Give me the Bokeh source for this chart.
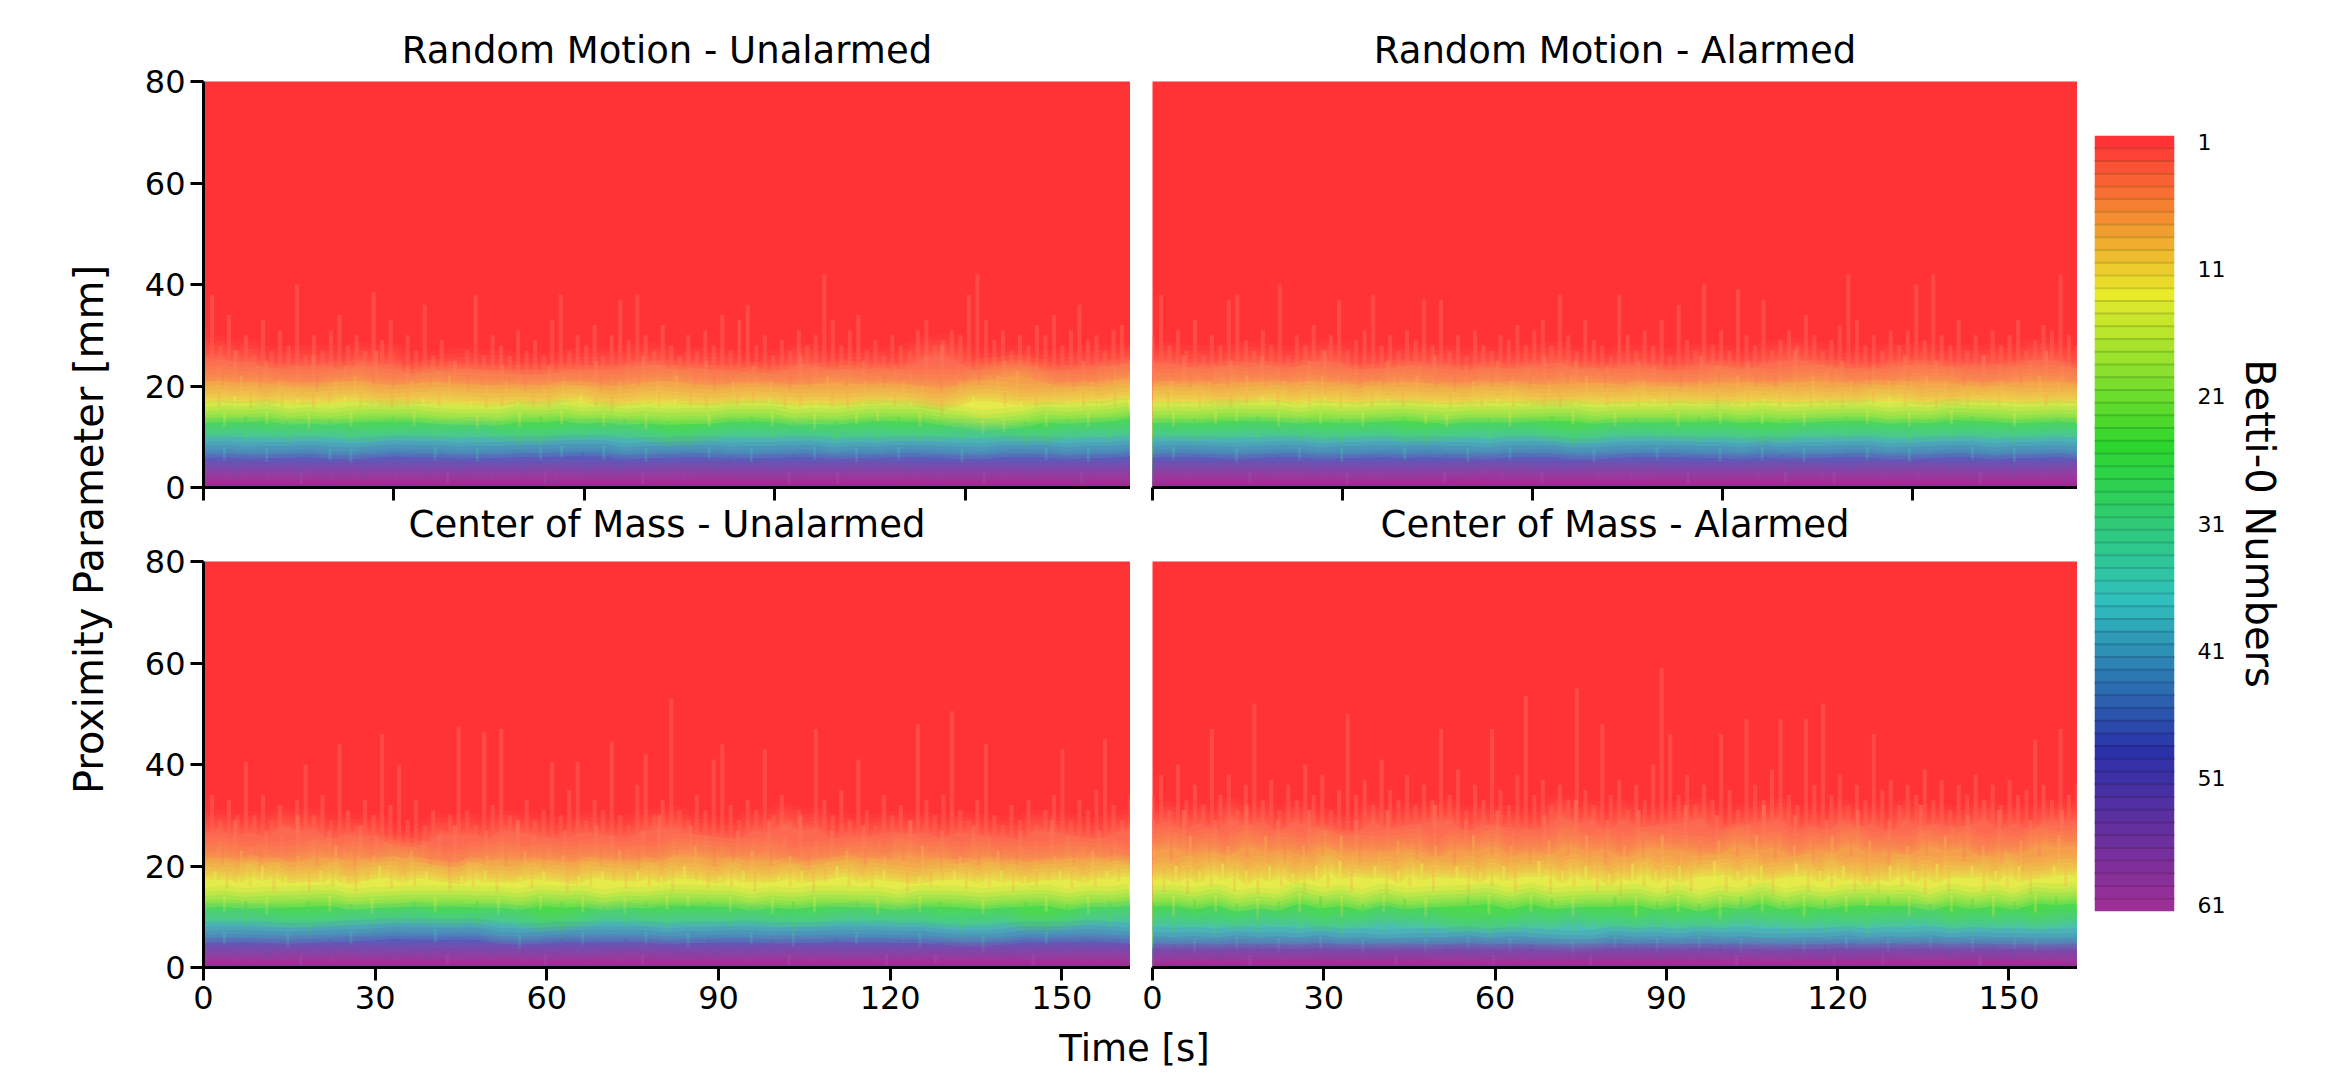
import numpy as np
from bokeh.plotting import figure
from bokeh.layouts import row, column
from bokeh.models import Range1d, Label, Title, FixedTicker
from bokeh.embed import file_html
from bokeh.resources import INLINE

# Level-contour heights [mm], one list per Betti level, per panel
rmu_l2 = [31,38,28,34,27,30,26,33,27,31,28,40,26,30,27,31,34,28,30,27,38.5,29,33,25,30,27,36,26,29,25,24,27,38,26,30,28,26,31,27,29,26,33,38,27,30,28,32,26,30,37,29,38,30,27,32,28,26,30,27,31,28,34,27,33,36,28,30,26,29,27,31,28,30,42,33,28,31,34,27,29,26,30,28,27,31,33,28,29,31,30,38,42,33,29,31,27,30,28,32,30,34,28,31,36,29,30,27,31,32,28]
rmu_l4 = [26,24,27,23,25,22,24,26,22,24,23,27,22,24,21,23,25,22,23,24,22,21,24,22,23,25,22,24,26,23,24,22,25,23,22,24,21,23,26,24,22,23,25,22,24,23,26,28,24,23,22,25,23,24,22,23,25,23,24,25]
rmu_l8 = [21,20,22,19.5,21,20,19,21,22,20,19.5,21,20,22,19,20,21,19,20,21,20,19,21,20,21,22,20,19,21,20,21,19,20,22,20,21,19.5,21,20,19,21,20,22,23,21,20,19,21,20,22]
rmu_l13 = [17,16,18,15.5,17,16,17.5,15.5,16.5,18,16,17,15.5,16,17.5,16,16.5,17,15.5,16,17,16,15.5,17,18,16,15,16.5,17,16,17.5,16,15.5,17,16,16.5,17.5,15.5,16,17,16,15.5,17,16.5,16,17,15.5,14,16,18,17,16,17,15.5,16.5,17,16,17.5,16,18]
rmu_l24 = [13,12,14,12.5,13,11.5,13.5,12,13,14,12,13,12.5,11.5,13,12,14,12.5,13,12,13.5,11.5,13,12.5,12,13,14,12,13,11.5,13,12.5,13,14,12,13,12,10.5,11,13,12,13.5,12,13,14]
rmu_l36 = [9.5,10,9,10.5,8.5,9.5,10,9,8.5,10,9.5,9,10,9,10.5,7.5,8.5,10,9,9.5,10,9,8,7.5,9,10,9.5,9,10,9.5,8.5,10,9,9.5,8.5,10,9,9.5,10,8,8.5,9.5,10,9,10]
rmu_l48 = [6,5.5,6.5,5,6,6.5,5.5,5,6,6.5,6,5.5,6.5,5,6,6.5,5.5,6,7,5.5,6,5,6.5,6,5.5,6.5,5,6,6.5,5.5,6,5,6.5,5.5,6,6.5,5,5.5,6,6.5,5.5,6,5,6.5,6]
rmu_l58 = [2.5,2,3,2.2,2.6,2,3,2.4,2,2.8,2.2,3,2.4,2,2.6,3,2.2,2.5,2,2.8,2.4,3,2.2,2.6,2,2.8,2.4,2.1,2.7,2.4]
rmu_l60 = [0.8,1,0.7,0.9,1.1,0.7,0.9,0.8,1,0.7,0.9,1.1,0.8,0.7,1,0.9,0.7,1,0.8,0.9]

rma_l2 = [30,38,28,31,27,33,26,30,28,37,38,29,27,31,28,40,26,30,28,32,27,30,37,27,29,31,38,28,30,27,31,29,37,28,37,27,30,26,31,28,27,30,29,32,28,31,33,28,38,30,27,33,29,28,26,38,30,27,31,28,33,26,36,29,27,40,28,31,27,39,30,28,37,27,29,31,28,34,30,27,29,32,42,33,28,30,27,31,28,31,40,29,42,30,28,33,27,30,26,31,28,30,33,27,29,32,31,42,30,28]
rma_l4 = [25,23,26,22,24,25,23,26,24,22,25,27,23,24,22,25,23,24,26,22,24,23,25,22,24,26,23,25,22,24,23,25,24,22,23,26,24,22,25,23,25,27,24,23,25,22,24,23,26,23,25,24,22,26,24,23,25,27,24,23]
rma_l8 = [20,21,19.5,21,20,22,19.5,21,20,22,20,19.5,21,20,22,20,19,21,20,21,19.5,21,20,22,19.5,20,21,20,19,21,20,22,20,19.5,21,22,20,21,19.5,21,20,22,21,20,19.5,21,20,22,21,20]
rma_l13 = [17,16,17.5,16,17,15.5,16.5,18,16,17,16,18,15.5,17,16,17.5,16,16.5,17,15.5,17,16,17.5,16,17,16,15.5,17,16.5,16,17,16,17.5,16,16.5,17,15.5,17,16,17.5,16,17,16,17.5,15.5,17,16.5,18,16,17,15.5,17,16,17.5,16,17,16.5,16,17,16.5]
rma_l24 = [13,12,13.5,12.5,13,14,12,13,12.5,13.5,12,13,14,12.5,12,13,13.5,12,13,14,12.5,13,12,13.5,13,12,14,12.5,13,12.5,13.5,12,13,14,12.5,13,12,13.5,12.5,14,13,12,13,13.5,12.5]
rma_l36 = [9.5,10,8.5,9.5,10,9,10.5,9,9.5,8.5,10,9.5,9,8,9.5,10,9,9.5,10,9,7.5,9,10,9.5,9,10,8.5,9.5,10,7.5,9,10,9.5,9,10,9.5,8.5,10,9,9.5,10,8.5,9.5,10,9.5]
rma_l48 = [6,5.5,6.5,6,5,6,6.5,5.5,6,5,6.5,6,5.5,6,6.5,5,6,5.5,6.5,6,5.5,5,6,6.5,5.5,6,6.5,5,6,5.5,6.5,5,6,6.5,5.5,6,5,6,6.5,5.5,6,5,6.5,6,5.5]
rma_l58 = [2.4,2.9,2.1,2.6,3,2.2,2.7,2.4,2,2.8,2.3,3,2.5,2.1,2.7,3,2.2,2.6,2,2.9,2.4,2.8,2.2,2.6,3,2.3,2.7,2,2.5,2.8]
rma_l60 = [0.9,1.1,0.8,1,0.7,1,0.9,1.2,0.8,1,0.9,0.7,1.1,0.9,0.8,1,1.1,0.8,0.9,1]

cmu_l2 = [31,34,29,33,30,40.5,30,34,29,32,28,33,40,30,34,29,44,31,28,33,30,46,32,40,29,33,28,31,27,30,47.5,31,28,46.5,32,47,30,28,33,29,31,40.5,30,35,40.5,29,33,31,44.5,30,28,36,42,30,33,53,31,29,34,31,41,44,32,29,33,31,43,30,34,29,31,28,47,33,30,35,29,41,31,28,34,30,32,29,48,33,30,34,50.5,31,29,33,44,30,28,32,29,33,28,31,34,43,29,33,31,35,45,32,29,34]
cmu_l4 = [27,25,29,24,27,26,30,25,27,24,28,26,24,22,25,26,28,24,27,25,29,26,24,27,25,28,26,24,27,30,25,28,26,24,27,25,29,26,30,25,27,24,28,25,26,29,24,27,25,28,26,24,27,25,29,26,24,27,25,28]
cmu_l8 = [22,20,23,19,21,22,20,24,19,22,21,23,20,18,21,22,20,23,19,22,21,20,23,19,21,22,24,20,21,23,20,22,19,21,23,20,22,21,24,19,22,20,23,19,21,22,20,23,21,20]
cmu_l13 = [17,19,15.5,18,16,20,15,18,17,15,19,16,18,15,17,20,15.5,18,16,19,17,15,18,16,19,15,17,18,15.5,19,17,15,18,16,19,17,15.5,19,16,18,15,20,17,15.5,18,16,19,15,17,18,16,19,15,17,20,16,18,15.5,19,17,15,18,16,17,19,15.5,18,16,19,15,18,16,17,19,15.5,18,16,19,17,18]
cmu_l24 = [12,11,13,10.5,12,13,11,12.5,10.5,12,13,11,12,13,10.5,12,11.5,13,11,12,10.5,13,11.5,12,13,11,12,10.5,13,11,12,13,10.5,12,11,13,12,10.5,12,13,11,12.5,10.5,13,12]
cmu_l36 = [8.5,9.5,7.5,9,8,6,9,8.5,7.5,9.5,8,9,7.5,8,9.5,8,7,5.5,8.5,9.5,8,9,7.5,8.5,9,7.5,8.5,9.5,6,8.5,9,8,9.5,7.5,8.5,9,6,8.5,9,7,5,8.5,9,8,9.5]
cmu_l48 = [5,4.5,5.5,5,4,5,5.5,4.5,5.5,6,5.5,5,6,5.5,5,3.5,5,5.5,4.5,5,5.5,4.5,5,4,5.5,5,4.5,5.5,4,5,5.5,4.5,5,5.5,4,5,4.5,3,5,5.5,4.5,5,5.5,5,4.5]
cmu_l58 = [1.8,2.2,1.5,2,2.4,1.7,2.1,1.5,2.3,1.8,2.2,1.6,2,2.5,1.7,2,1.5,2.2,1.8,2.4,1.6,2,1.5,2.3,1.9,1.6,2.2,1.8,2.4,1.9]
cmu_l60 = [0.5,0.7,0.4,0.6,0.8,0.5,0.7,0.4,0.6,0.5,0.8,0.6,0.4,0.7,0.5,0.6,0.8,0.4,0.7,0.5]

cma_l2 = [34,38,31,40,33,36,32,47,34,38,31,36,52,33,37,31,36,33,40,34,38,31,35,50,34,37,32,41,35,33,38,32,36,33,47,34,39,31,36,33,47,35,32,38,53.5,34,37,32,36,33,55,35,32,48,34,37,31,36,33,40,59,46,34,38,32,36,33,46,35,31,49,36,33,39,49,34,32,49,36,52,34,38,32,36,33,46,35,37,32,36,34,39,33,37,31,36,34,38,33,36,32,37,34,35,45,36,33,47,34,36]
cma_l4 = [29,26,31,25,29,27,32,25,29,26,31,27,24,29,26,31,25,28,32,26,29,25,31,27,25,30,27,33,25,29,27,31,25,28,32,26,30,25,28,32,26,30,25,29,27,31,25,29,26,32,25,28,30,26,31,25,29,27,31,28]
cma_l8 = [24,21,26,20,24,22,26,20,24,22,26,20,23,25,21,24,20,26,22,24,20,25,22,26,20,24,21,26,23,20,25,22,26,21,24,20,26,22,25,20,24,22,26,21,24,20,25,22,26,23]
cma_l13 = [18,15,20,14.5,19,16,20.5,15,19,14.5,20,16,18.5,14.5,20,16,21,15,18,20,14.5,19,16,20.5,15,18,20,14.5,19,16,20,15,18,21,14.5,19,16,20,15,18.5,14,20.5,16,19,14.5,20,15,18,21,15,19,16,20,14.5,18,20.5,15,19,16,20,15,18,14.5,20,16,19,14.5,20.5,15,18,20,15,19,16,20,14.5,18,20,16,19]
cma_l24 = [13,10,13.5,11,12.5,9.5,13,11,14,10,12.5,11,13.5,10,12,14,10.5,13,11,13.5,10,12,14,10,13,11,12.5,9.5,14,11,13,10,13.5,11,12,14,10,12.5,11,13.5,10,13,11,14,12]
cma_l36 = [8.5,7,9.5,6.5,8.5,7,9.5,7,8,6,9,7.5,9.5,6.5,8,7,5,9,6.5,8.5,7,9.5,6,8,7,9,6,8.5,7.5,9.5,6.5,8,7,9,6.5,8,9.5,7,8.5,6,9,7,8,6.5,9]
cma_l48 = [3.5,4.5,3,4,3.5,4.5,3,4,3.5,4.5,2.5,4,3.5,3,4.5,3.5,4,3,4.5,3.5,2,4,3.5,4.5,3,4,3.5,4.5,3,4,3.5,3,4.5,3.5,4,3,4.5,3.5,4,3,4.5,3.5,3,4,3.5]
cma_l58 = [1.5,1.9,1.2,1.7,2,1.3,1.8,1.2,1.6,2,1.4,1.8,1.2,1.7,1.4,1.9,1.2,1.6,2,1.3,1.8,1.4,1.2,1.7,2,1.4,1.8,1.3,1.7,1.5]
cma_l60 = [0.4,0.6,0.3,0.5,0.7,0.4,0.6,0.3,0.5,0.4,0.7,0.5,0.3,0.6,0.4,0.5,0.7,0.3,0.6,0.4]

x_ticks_top = [0, 30, 60, 90, 120]
x_ticks_bottom = [0, 30, 60, 90, 120, 150]
y_ticks = [0, 20, 40, 60, 80]
cbar_levels = list(range(1, 62))
cbar_ticks = [1, 11, 21, 31, 41, 51, 61]
titles = ["Random Motion - Unalarmed", "Random Motion - Alarmed",
          "Center of Mass - Unalarmed", "Center of Mass - Alarmed"]

# Styles
FONT = "DejaVu Sans"
RED = "#ff3336"
panel_colors = [RED, "#fd6a52", "#f7a04e", "#e6ec4c", "#4edc4e", "#4cc0b8", "#5060c0", "#9a4ca8", "#a02c96"]
needle_colors = ["#ff5c4e", "#fd7458", "#f7a850", "#e6ec4c", "#4edc4e", "#4cc0b8", "#5060c0", "#a058b0", "#a02c96"]
needle_alpha = [.6, .6, .55, .55, .45, .45, .45, .4, .3]
feathers = [(6,.30), (10,.25), (16,.22), (24,.20), (32,.16), (42,.12)]
cbar_stops = {1:(255,50,54), 13:(232,234,42), 25:(45,214,45), 37:(47,192,188), 49:(42,48,168), 61:(156,47,150)}

def cbar_color(level, shade=1.0):
    keys = sorted(cbar_stops)
    for a, b in zip(keys[:-1], keys[1:]):
        if a <= level <= b:
            f = (level - a) / (b - a)
            c = [(1-f)*u + f*v for u, v in zip(cbar_stops[a], cbar_stops[b])]
            return "#%02x%02x%02x" % tuple(int(round(v*shade)) for v in c)

def base(width, height, xr, left, right, top, bottom):
    p = figure(width=width, height=height, x_range=Range1d(0, xr), y_range=Range1d(0, 80),
               output_backend="svg", toolbar_location=None, tools="",
               min_border_left=left, min_border_right=right, min_border_top=top, min_border_bottom=bottom)
    p.grid.visible = False
    p.outline_line_color = None
    p.background_fill_color = RED
    p.border_fill_color = "white"
    return p

def style_axis(ax, ticks, blank=False):
    ax.ticker = FixedTicker(ticks=ticks)
    ax.axis_line_color = "black"; ax.axis_line_width = 3
    ax.major_tick_line_color = "black"; ax.major_tick_line_width = 3
    ax.major_tick_out = 13; ax.major_tick_in = 0
    ax.minor_tick_line_color = None
    ax.major_label_text_font = FONT
    ax.major_label_text_font_size = "1px" if blank else "32px"
    ax.major_label_text_color = "black"
    ax.major_label_standoff = 2 if blank else 5
    if blank:
        ax.major_label_overrides = {t: "" for t in ticks}

def body_of(y):
    # the calmer body of a contour; the read samples stand out from it as thin needles
    y = np.asarray(y, dtype=float)
    return np.convolve(np.pad(y, 1, mode="edge"), np.ones(3) / 3, mode="valid")

def draw(p, curves, tmax):
    for i, (y, col, ncol) in enumerate(zip(curves, panel_colors, needle_colors)):
        y = np.asarray(y, dtype=float)
        t = np.linspace(0, tmax, len(y))
        body = body_of(y)
        if i > 0:
            p.varea(x=t, y1=0, y2=body, fill_color=col)
            for w, a in feathers:
                p.line(t, body, line_color=col, line_width=w, line_alpha=a, line_join="round")
        # upper contours: every sample is a streak; lower ones: the samples above the body
        up = np.ones(len(y), dtype=bool) if i < 2 else y >= body
        p.segment(x0=t[up], y0=0, x1=t[up], y1=y[up], line_color=ncol,
                  line_width=4 if i < 2 else 3, line_alpha=needle_alpha[i])
        # samples below the body: needle of the level above cutting down into it
        if i > 1:
            p.segment(x0=t[~up], y0=y[~up], x1=t[~up], y1=body[~up] + 2,
                      line_color=needle_colors[i - 1], line_width=3, line_alpha=.3)

def titled(p, text, place, standoff):
    p.add_layout(Title(text=text, align="center", text_font=FONT, text_font_size="37px",
                       text_font_style="normal", text_color="black", standoff=standoff), place)

T_TOP, T_BOT = 146, 162
H1, H2, H3 = 546, 479, 46
a = base(1012, H1, T_TOP, 85, 0, 81, 59)
b = base(947, H1, T_TOP, 22, 0, 81, 59)
c = base(1012, H2, T_BOT, 85, 0, 15, 58)
d = base(947, H2, T_BOT, 22, 0, 15, 58)

draw(a, [rmu_l2, rmu_l4, rmu_l8, rmu_l13, rmu_l24, rmu_l36, rmu_l48, rmu_l58, rmu_l60], T_TOP)
draw(b, [rma_l2, rma_l4, rma_l8, rma_l13, rma_l24, rma_l36, rma_l48, rma_l58, rma_l60], T_TOP)
draw(c, [cmu_l2, cmu_l4, cmu_l8, cmu_l13, cmu_l24, cmu_l36, cmu_l48, cmu_l58, cmu_l60], T_BOT)
draw(d, [cma_l2, cma_l4, cma_l8, cma_l13, cma_l24, cma_l36, cma_l48, cma_l58, cma_l60], T_BOT)

titled(a, titles[0], "above", 20)
titled(b, titles[1], "above", 20)
# the lower panels' titles sit under the upper panels' axes, so they are not cut at the row boundary
titled(a, titles[2], "below", 0)
titled(b, titles[3], "below", 0)

for p, top_row, left_col in [(a, True, True), (b, True, False), (c, False, True), (d, False, False)]:
    style_axis(p.xaxis[0], x_ticks_top if top_row else x_ticks_bottom, blank=top_row)
    if left_col:
        style_axis(p.yaxis[0], y_ticks)
    else:
        p.yaxis.visible = False

# Colourbar
cb = figure(width=258, height=H1 + H2 + H3, x_range=Range1d(0, 1), y_range=Range1d(61.5, 0.5),
            output_backend="svg", toolbar_location=None, tools="", y_axis_location="right",
            min_border_left=17, min_border_right=161, min_border_top=135, min_border_bottom=160)
cb.grid.visible = False
cb.outline_line_color = None
cb.xaxis.visible = False
lv = np.array(cbar_levels, dtype=float)
cb.quad(left=0, right=1, top=lv - .5, bottom=lv + .5,
        fill_color=[cbar_color(v) for v in cbar_levels], line_color=None)
cb.segment(x0=0, x1=1, y0=lv[1:] - .5, y1=lv[1:] - .5,
           line_color=[cbar_color(v, .86) for v in cbar_levels[1:]], line_width=2)
ay = cb.yaxis[0]
ay.ticker = FixedTicker(ticks=cbar_ticks)
ay.axis_line_color = None
ay.major_tick_line_color = None
ay.minor_tick_line_color = None
ay.major_label_text_font = FONT
ay.major_label_text_font_size = "22px"
ay.major_label_text_color = "black"
ay.major_label_standoff = 17
ay.axis_label = "Betti-0 Numbers"
ay.axis_label_text_font = FONT
ay.axis_label_text_font_size = "40px"
ay.axis_label_text_font_style = "normal"
ay.axis_label_text_color = "black"
ay.axis_label_standoff = 9

# Shared axis labels
def strip(width, height):
    s = figure(width=width, height=height, x_range=Range1d(0, 1), y_range=Range1d(0, 1),
               output_backend="svg", toolbar_location=None, tools="",
               min_border_left=0, min_border_right=0, min_border_top=0, min_border_bottom=0)
    s.grid.visible = False; s.axis.visible = False; s.outline_line_color = None
    return s

left = strip(118, H1 + H2 + H3)
left.add_layout(Label(x=88, y=382, x_units="screen", y_units="screen", text="Proximity Parameter [mm]",
                      angle=np.pi/2, text_align="center", text_baseline="middle",
                      text_font=FONT, text_font_size="40px", text_color="black"))
bottom = strip(1959, H3)
bottom.add_layout(Label(x=1016, y=23, x_units="screen", y_units="screen", text="Time [s]",
                        text_align="center", text_baseline="middle",
                        text_font=FONT, text_font_size="37px", text_color="black"))

page = row(left, column(row(a, b), row(c, d), bottom), cb)
open("out.html", "w").write(file_html(page, INLINE))
